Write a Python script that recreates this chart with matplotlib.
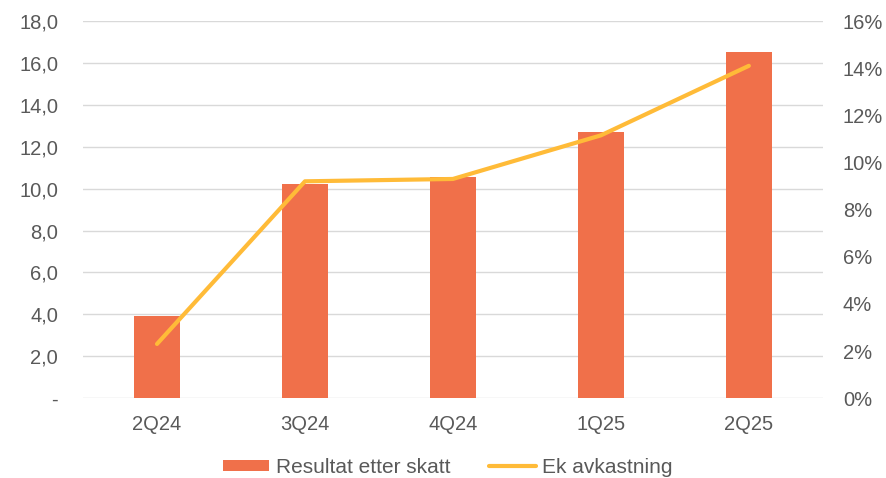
import matplotlib
matplotlib.use("Agg")
import matplotlib.pyplot as plt
from matplotlib.ticker import FuncFormatter, MultipleLocator

categories = ["2Q24", "3Q24", "4Q24", "1Q25", "2Q25"]
resultat = [3.9, 10.2, 10.55, 12.7, 16.5]
ek_avk = [2.3, 9.2, 9.3, 11.15, 14.1]

plt.rcParams['font.family'] = ['Liberation Sans', 'DejaVu Sans']
txt = '#595959'
bar_c = '#F0704A'
line_c = '#FFBB38'
grid_c = '#D9D9D9'
fs = 14.5

fig = plt.figure(figsize=(8.86, 4.78), dpi=100)
ax = fig.add_axes([0.0937, 0.167, 0.835, 0.789])
x = list(range(len(categories)))
ax.bar(x, resultat, width=0.31, color=bar_c, zorder=2, label="Resultat etter skatt")
ax.set_xlim(-0.5, len(categories) - 0.5)
ax.set_ylim(0, 18)
ax.yaxis.set_major_locator(MultipleLocator(2))
ax.yaxis.set_major_formatter(FuncFormatter(lambda v, p: "-" if abs(v) < 1e-9 else f"{v:.1f}".replace('.', ',')))
ax.set_xticks(x)
ax.set_xticklabels(categories)
ax.grid(axis='y', color=grid_c, linewidth=1, zorder=0)
ax.set_axisbelow(True)
for s in ax.spines.values():
    s.set_visible(False)
ax.tick_params(axis='both', length=0, colors=txt, labelsize=fs)
ax.tick_params(axis='y', pad=18)
ax.tick_params(axis='x', pad=12)

ax2 = ax.twinx()
ax2.plot(x, ek_avk, color=line_c, linewidth=3.0, solid_capstyle='round', label="Ek avkastning", zorder=3)
ax2.set_ylim(0, 16)
ax2.yaxis.set_major_locator(MultipleLocator(2))
ax2.yaxis.set_major_formatter(FuncFormatter(lambda v, p: f"{v:.0f}%"))
for s in ax2.spines.values():
    s.set_visible(False)
ax2.tick_params(axis='y', length=0, colors=txt, labelsize=fs, pad=14.5)

h1, l1 = ax.get_legend_handles_labels()
h2, l2 = ax2.get_legend_handles_labels()
leg = fig.legend(h1 + h2, l1 + l2, loc='lower center', bbox_to_anchor=(0.505, -0.037), ncol=2,
                 frameon=False, fontsize=15, handlelength=2.25, handleheight=0.5,
                 columnspacing=1.85, handletextpad=0.3)
for t in leg.get_texts():
    t.set_color(txt)

fig.savefig("out.png", dpi=100)
